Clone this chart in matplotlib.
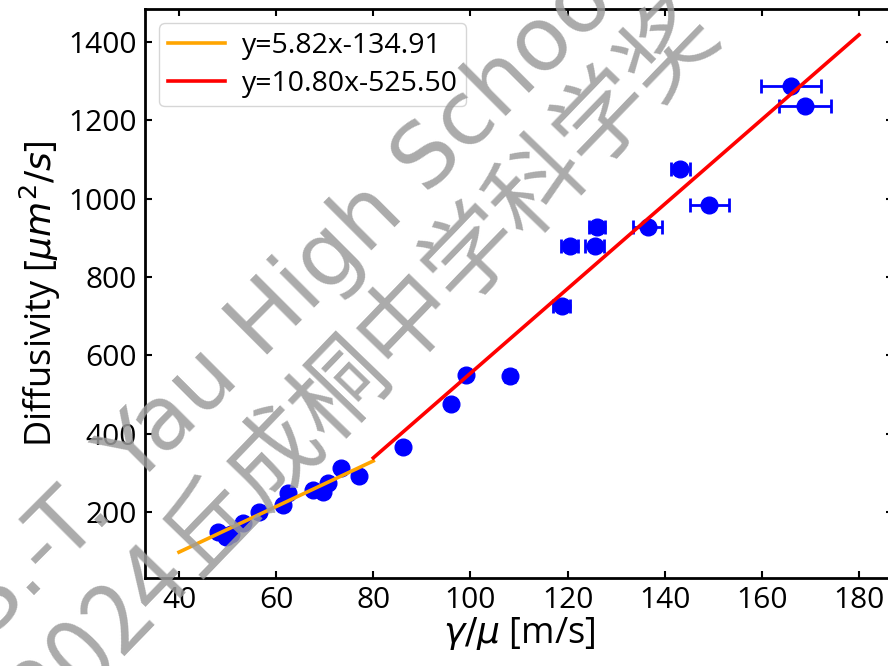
import matplotlib
matplotlib.use("Agg")
import matplotlib.pyplot as plt

# =========================
# Data
# =========================
gamma_mu = [48.0, 49.7, 50.7, 53.2, 56.5, 61.4, 62.4, 67.6, 69.6, 70.7, 73.4, 77.1,
            86.1, 96.0, 99.1, 108.2, 118.8, 120.4, 125.6, 126.1, 136.5, 143.2, 149.2,
            166.0, 168.9]
diffusivity = [149, 136, 144, 172, 200, 218, 248, 256, 251, 274, 312, 292,
               367, 476, 550, 547, 727, 879, 879, 927, 927, 1077, 984,
               1288, 1237]
gamma_mu_err = [0.3, 0.3, 0.3, 0.3, 0.3, 0.3, 0.3, 0.3, 0.3, 0.3, 0.3, 0.3,
                0.4, 0.4, 0.4, 1.0, 1.8, 1.7, 2.0, 1.6, 3.0, 2.0, 4.0,
                6.1, 5.4]

# two linear fits: slope, intercept and x range
fit_low = (5.82, -134.91)
fit_low_x = [40, 80]
fit_high = (10.80, -525.50)
fit_high_x = [80, 180]

plt.rcParams["font.family"] = ["Open Sans", "DejaVu Sans"]

fig = plt.figure(figsize=(8.88, 6.66), dpi=100)
ax = fig.add_axes([145 / 888, 88 / 666, 748 / 888, 569 / 666])

ax.errorbar(gamma_mu, diffusivity, xerr=gamma_mu_err, fmt="o", color="blue",
            markersize=12, elinewidth=2, capsize=5, capthick=2, zorder=3)

low_y = [fit_low[0] * x + fit_low[1] for x in fit_low_x]
high_y = [fit_high[0] * x + fit_high[1] for x in fit_high_x]
ax.plot(fit_low_x, low_y, color="orange", lw=2.6, zorder=4,
        label=f"y={fit_low[0]:.2f}x{fit_low[1]:.2f}")
ax.plot(fit_high_x, high_y, color="red", lw=2.6, zorder=4,
        label=f"y={fit_high[0]:.2f}x{fit_high[1]:.2f}")

ax.set_xticks([40, 60, 80, 100, 120, 140, 160, 180])
ax.set_yticks([200, 400, 600, 800, 1000, 1200, 1400])
ax.tick_params(direction="in", top=True, right=True, length=5, width=1.5,
               labelsize=21.5, pad=6)
for s in ax.spines.values():
    s.set_linewidth(2)

ax.set_xlabel(r"$\gamma/\mu$ [m/s]", fontsize=26, labelpad=0)
ax.set_ylabel(r"Diffusivity [$\mu m^2/s$]", fontsize=26, labelpad=4)
ax.legend(loc="upper left", fontsize=20.5, handlelength=2.0,
          handletextpad=0.6, labelspacing=0.35, borderpad=0.3)

# watermark (pixel positions from the top-left corner)
def px(x, y):
    return x / 888, 1 - y / 666

wm = dict(color="#9c9c9c", alpha=0.85, rotation_mode="anchor",
          va="baseline", zorder=10, transform=fig.transFigure)
fig.text(*px(114, 509), "S.-T.", ha="right", fontsize=64, rotation=45,
         family=["DejaVu Sans"], **wm)
fig.text(*px(134, 489), "Yau High School Science Award", ha="left", fontsize=64,
         rotation=45, family=["DejaVu Sans"], **wm)
fig.text(*px(194, 581), "2024", ha="right", fontsize=68, rotation=46,
         family=["Noto Sans CJK SC"], **wm)
fig.text(*px(197, 578), "丘成桐中学科学奖", ha="left", fontsize=68, rotation=46,
         family=["Noto Sans CJK SC"], **wm)

fig.savefig("out.png", dpi=100)
